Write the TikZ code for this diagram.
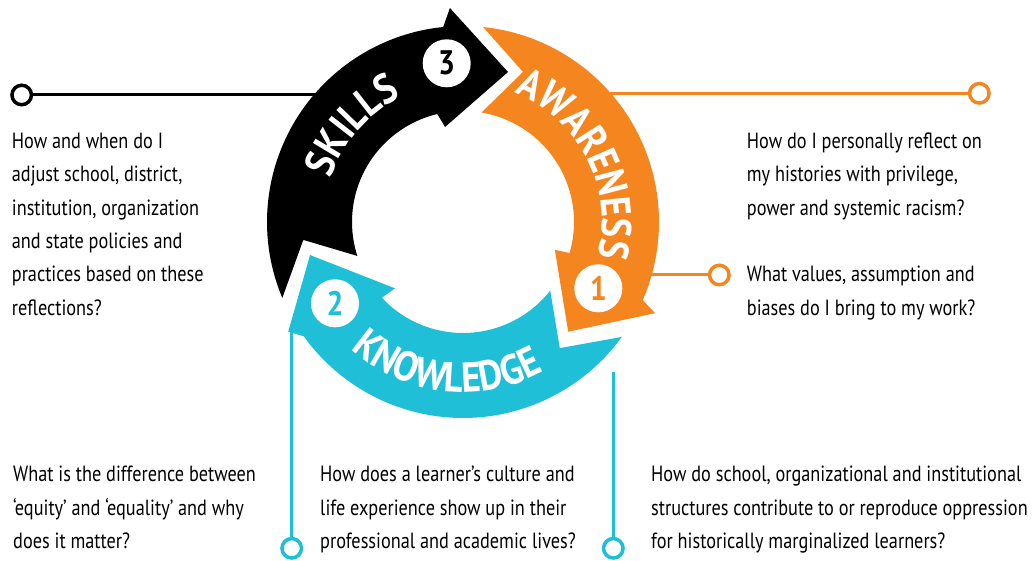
\documentclass[tikz,border=0pt]{standalone}
\usepackage{fontspec}
\setmainfont{PT Sans}[FakeStretch=0.83, BoldFeatures={FakeStretch=0.88}]
\usetikzlibrary{calc,decorations.text}
\definecolor{aworange}{HTML}{F5861F}
\definecolor{knteal}{HTML}{1FBFD7}
\newcommand\arrowlabelfont{\fontsize{42}{42}\selectfont\bfseries\color{white}}
\begin{document}
\begin{tikzpicture}[x=1pt,y=1pt,
  qtext/.style={anchor=base west, align=left, inner sep=0pt, font=\fontsize{22}{33.4}\selectfont},
  dotcirc/.style={circle, minimum size=19.5pt, inner sep=0pt, line width=3.5pt, fill=white, draw=#1},
  link/.style={line width=3pt, draw=#1},
  numdisc/.style={circle, fill=white, minimum size=48pt, inner sep=0pt, font=\fontsize{34}{34}\selectfont\bfseries, text=#1},
  arclabel/.style={decorate, decoration={text along path, text align=center, text={|\arrowlabelfont|#1}}}
]
\useasboundingbox (0,0) rectangle (1035,561);
\coordinate (C) at (463,339);

% connectors
\node[dotcirc=black] (dk) at (21.7,466) {};
\coordinate (ak) at (320,466);
\draw[link=black] (ak) -- (dk);
\node[dotcirc=aworange] (da1) at (979.3,467.7) {};
\coordinate (aa1) at (600,467.7);
\draw[link=aworange] (aa1) -- (da1);
\node[dotcirc=aworange] (da2) at (719.3,286) {};
\coordinate (aa2) at (640,286);
\draw[link=aworange] (aa2) -- (da2);
\node[dotcirc=knteal] (dn1) at (291.7,12.7) {};
\coordinate (an1) at (291.7,231);
\draw[link=knteal] (an1) -- (dn1);
\node[dotcirc=knteal] (dn2) at (613.3,12.7) {};
\coordinate (an2) at (613.3,189);
\draw[link=knteal] (an2) -- (dn2);

% arrows
\fill[black] ($(C)+(202.8:196)$) arc[start angle=202.8, end angle=95.8, radius=196]
  -- ($(C)+(93.5:214.4)$) -- ($(C)+(73.3:156.6)$) -- ($(C)+(100.7:96.7)$)
  -- ($(C)+(103.4:111)$) arc[start angle=103.4, end angle=197.8, radius=111]
  -- ($(C)+(186.4:160.7)$) -- cycle;
\fill[aworange] ($(C)+(84.1:196)$) arc[start angle=84.1, end angle=-23.5, radius=196]
  -- ($(C)+(-25.4:212.6)$) -- ($(C)+(-46.2:152)$) -- ($(C)+(-16.9:96)$)
  -- ($(C)+(-16.2:111)$) arc[start angle=-16.2, end angle=80.4, radius=111]
  -- ($(C)+(68.2:161.6)$) -- cycle;
\fill[knteal] ($(C)+(-35.9:196)$) arc[start angle=-35.9, end angle=-144.3, radius=196]
  -- ($(C)+(-147.9:206.3)$) -- ($(C)+(-167.8:156.5)$) -- ($(C)+(-135.7:95)$)
  -- ($(C)+(-137:111)$) arc[start angle=-137, end angle=-38.2, radius=111]
  -- ($(C)+(-52.5:159)$) -- cycle;

% number discs
\node[numdisc=black] (n3) at (446.7,497.7) {3};
\node[numdisc=aworange] (n1) at (598.3,272.7) {1};
\node[numdisc=knteal] (n2) at (335,257.7) {2};

% arrow labels
\path[arclabel=SKILLS] ($(C)+(189:139)$) arc[start angle=189, end angle=89, radius=139];
\path[arclabel=AWARENESS] ($(C)+(87:139)$) arc[start angle=87, end angle=-33, radius=139];
\path[arclabel=KNOWLEDGE] ($(C)+(203:170)$) arc[start angle=203, end angle=324, radius=170];

% question texts (anchored at the baseline of their last line)
\node[qtext] (tskills) at (11.7,245.7) {How and when do I\\adjust school, district,\\institution, organization\\and state policies and\\practices based on these\\reflections?};
\node[qtext] (taw1) at (746.7,345.9) {How do I personally reflect on\\my histories with privilege,\\power and systemic racism?};
\node[qtext] (taw2) at (746.7,245.9) {What values, assumption and\\biases do I bring to my work?};
\node[qtext] (tkn1) at (13,12.5) {What is the difference between\\‘equity’ and ‘equality’ and why\\does it matter?};
\node[qtext] (tkn2) at (320,12.5) {How does a learner’s culture and\\life experience show up in their\\professional and academic lives?};
\node[qtext] (tkn3) at (651,12.5) {How do school, organizational and institutional\\structures contribute to or reproduce oppression\\for historically marginalized learners?};
\end{tikzpicture}
\end{document}
